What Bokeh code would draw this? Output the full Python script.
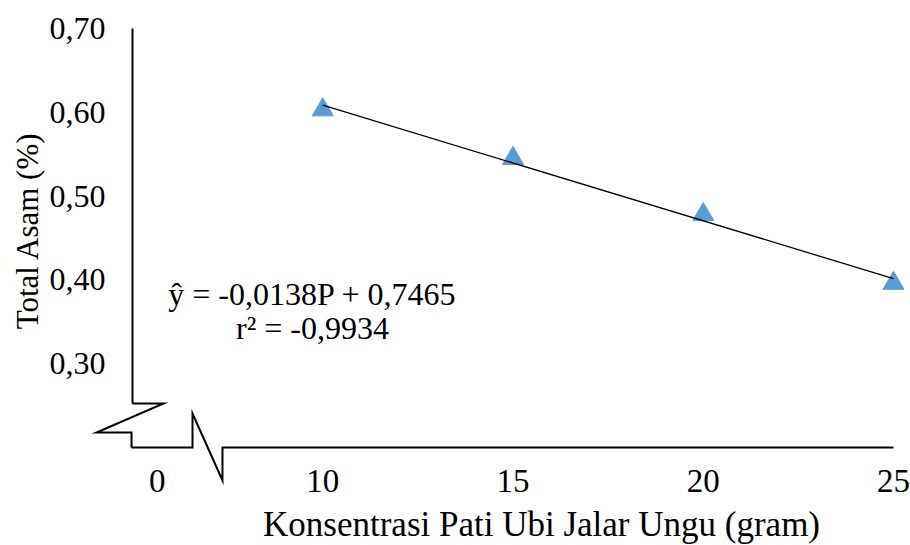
import math
from bokeh.plotting import figure
from bokeh.models import FixedTicker, Label, Range1d
from bokeh.core.properties import value
from bokeh.embed import file_html
from bokeh.resources import INLINE

# ---- data ----
konsentrasi = [10, 15, 20, 25]
total_asam = [0.603, 0.545, 0.478, 0.396]
slope = -0.0138
intercept = 0.7465
x_ticks = [5.65, 10, 15, 20, 25]
x_tick_labels = ["0", "10", "15", "20", "25"]
y_ticks = [0.3, 0.4, 0.5, 0.6, 0.7]
y_tick_labels = ["0,30", "0,40", "0,50", "0,60", "0,70"]
eq_text = ["ŷ = -0,0138P + 0,7465", "r² = -0,9934"]
x_title = "Konsentrasi Pati Ubi Jalar Ungu (gram)"
y_title = "Total Asam (%)"

FONT = "Liberation Serif"

p = figure(width=910, height=545, output_backend="svg", toolbar_location=None,
           x_range=Range1d(5, 25), y_range=Range1d(0.2, 0.7),
           min_border_left=132, min_border_right=17,
           min_border_top=28, min_border_bottom=98)
p.outline_line_color = None
p.grid.visible = False
p.background_fill_color = "white"
p.border_fill_color = "white"

# axes (tick labels only; lines drawn with the break)
p.xaxis.ticker = FixedTicker(ticks=x_ticks)
p.xaxis.major_label_overrides = {t: l for t, l in zip(x_ticks, x_tick_labels)}
p.yaxis.ticker = FixedTicker(ticks=y_ticks)
p.yaxis.major_label_overrides = {t: l for t, l in zip(y_ticks, y_tick_labels)}
for ax in (p.xaxis, p.yaxis):
    ax.axis_line_color = None
    ax.major_tick_line_color = None
    ax.minor_tick_line_color = None
    ax.major_tick_out = 0
    ax.major_tick_in = 0
    ax.minor_tick_out = 0
    ax.minor_tick_in = 0
    ax.major_label_text_font = FONT
    ax.major_label_text_color = "black"
p.yaxis.major_label_text_font_size = "32px"
p.xaxis.major_label_text_font_size = "33px"
p.yaxis.major_label_standoff = 27
p.xaxis.major_label_standoff = 22

# axis lines with break marks
axis_kw = dict(line_color="black", line_width=2, line_join="miter", level="overlay")
p.line([5, 5], [0.7, 0.2525], **axis_kw)
p.line([5, 5.815, 4.054, 4.974, 4.974], [0.2525, 0.2525, 0.2179, 0.2179, 0.2], **axis_kw)
p.line([4.974, 6.577, 6.577, 7.365, 7.365, 25], [0.2, 0.2, 0.2406, 0.1606, 0.2, 0.2], **axis_kw)

# data points
p.scatter(konsentrasi, total_asam, marker="triangle", size=21,
          fill_color="#5B9BD5", line_color="#5B9BD5", level="overlay")

# trend line
tx = [konsentrasi[0], konsentrasi[-1]]
ty = [slope * v + intercept for v in tx]
p.line(tx, ty, line_color="black", line_width=1.3, level="overlay")

# equation
for txt, yy in zip(eq_text, [0.3834, 0.3428]):
    p.add_layout(Label(x=9.73, y=yy, text=txt, text_align="center",
                       text_baseline="alphabetic", text_font=FONT,
                       text_font_size="32px", text_color="black"))

# axis titles (text glyphs drawn outside the frame)
p.text(x=[15.75], y=[0.2 - (524 - 447) / 838], text=[x_title],
       text_align="center", text_baseline="middle", text_font=value(FONT),
       text_font_size="35px", text_color="black", level="overlay")
p.text(x=[5 + (27 - 132) / 38.05], y=[0.2 + (447 - 230) / 838], text=[y_title],
       angle=math.pi / 2, text_align="center", text_baseline="middle",
       text_font=value(FONT), text_font_size="31px", text_color="black",
       level="overlay")

open("out.html", "w").write(file_html(p, INLINE))
